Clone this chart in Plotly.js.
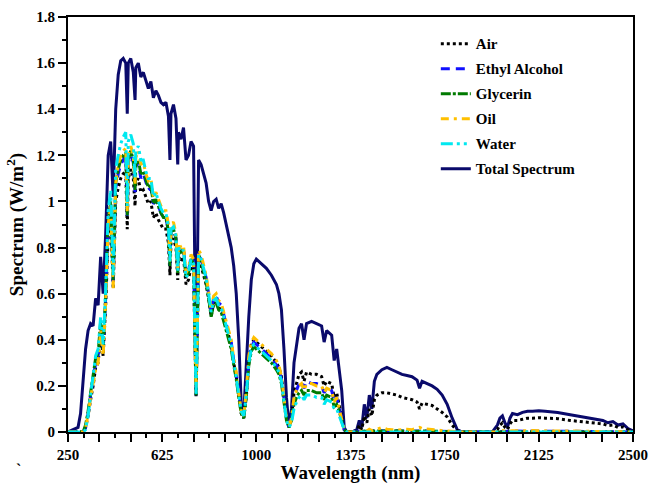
<!DOCTYPE html>
<html>
<head>
<meta charset="utf-8">
<script src="https://cdn.plot.ly/plotly-3.0.1.min.js"></script>
<style>html,body{margin:0;padding:0;background:#fff;}#chart{width:649px;height:484px;}</style>
</head>
<body>
<div id="chart"></div>
<script>
var wavelength = [250,290,300,310,320,330,340,350,360,370,380,390,400,410,420,430,440,450,460,470,480,486,490,500,510,517,520,530,540,550,560,570,580,590,600,610,620,630,640,650,656,660,670,680,687,690,700,710,720,730,740,750,760,765,770,780,790,800,810,820,830,840,850,860,870,880,890,900,910,920,930,940,950,960,970,980,990,1000,1020,1040,1060,1080,1090,1100,1110,1120,1130,1140,1150,1160,1170,1180,1190,1200,1220,1240,1260,1270,1280,1300,1310,1320,1330,1340,1350,1360,1380,1400,1410,1420,1430,1440,1450,1460,1470,1480,1500,1520,1540,1560,1580,1600,1620,1640,1650,1660,1680,1700,1720,1740,1760,1780,1800,1820,1900,1940,1960,1970,1980,1990,2000,2010,2020,2040,2060,2080,2100,2125,2150,2200,2250,2300,2350,2380,2400,2420,2440,2460,2480,2500];

var totalSpectrum = [0,0.02,0.08,0.22,0.36,0.44,0.47,0.46,0.58,0.55,0.76,0.6,0.86,1.2,1.26,1.02,1.4,1.55,1.61,1.62,1.6,1.38,1.6,1.62,1.56,1.44,1.58,1.6,1.54,1.56,1.52,1.49,1.52,1.45,1.48,1.46,1.43,1.42,1.43,1.37,1.18,1.38,1.42,1.36,1.16,1.3,1.27,1.32,1.18,1.2,1.26,1.24,0.17,0.62,1.18,1.16,1.12,1.08,1.0,0.96,1.0,1.01,0.97,0.99,0.95,0.9,0.86,0.8,0.72,0.6,0.4,0.12,0.08,0.3,0.5,0.66,0.73,0.75,0.73,0.71,0.68,0.64,0.6,0.53,0.36,0.15,0.02,0.1,0.3,0.38,0.45,0.47,0.4,0.47,0.48,0.47,0.46,0.39,0.44,0.42,0.31,0.36,0.28,0.18,0.02,0,0,0.01,0.05,0.02,0.12,0.06,0.16,0.1,0.22,0.25,0.27,0.28,0.27,0.26,0.25,0.245,0.24,0.225,0.19,0.22,0.21,0.2,0.185,0.16,0.12,0.06,0.01,0,0,0,0.03,0.06,0.07,0.04,0.02,0.06,0.08,0.075,0.085,0.09,0.09,0.092,0.09,0.085,0.075,0.065,0.055,0.05,0.04,0.045,0.03,0.035,0.015,0.005];

var air = [0,0,0,0,0.02,0.07,0.14,0.2,0.28,0.3,0.42,0.33,0.55,0.85,0.92,0.62,1.0,1.06,1.1,1.12,1.13,0.88,1.1,1.14,1.1,0.98,1.08,1.1,1.04,1.05,1.02,0.99,1.0,0.93,0.95,0.92,0.9,0.88,0.88,0.82,0.68,0.82,0.84,0.8,0.66,0.76,0.74,0.76,0.64,0.66,0.72,0.7,0.15,0.42,0.74,0.72,0.68,0.64,0.58,0.5,0.56,0.57,0.54,0.53,0.49,0.45,0.42,0.38,0.3,0.24,0.16,0.08,0.06,0.16,0.3,0.38,0.4,0.39,0.37,0.35,0.33,0.3,0.28,0.24,0.14,0.06,0.02,0.06,0.17,0.21,0.25,0.26,0.22,0.26,0.25,0.25,0.24,0.2,0.22,0.21,0.15,0.17,0.12,0.07,0.01,0,0,0,0.03,0.01,0.07,0.04,0.1,0.07,0.14,0.16,0.17,0.17,0.165,0.16,0.15,0.145,0.14,0.13,0.1,0.125,0.12,0.115,0.1,0.085,0.065,0.03,0.005,0,0,0,0.01,0.03,0.04,0.02,0.01,0.035,0.05,0.05,0.055,0.06,0.06,0.062,0.06,0.058,0.05,0.045,0.04,0.035,0.028,0.03,0.02,0.022,0.01,0.003];

var ethylAlcohol = [0,0,0,0,0.02,0.08,0.16,0.23,0.3,0.33,0.46,0.35,0.58,0.9,0.98,0.64,1.06,1.12,1.16,1.18,1.2,0.93,1.17,1.2,1.17,1.04,1.15,1.17,1.1,1.12,1.08,1.05,1.06,0.99,1.0,0.98,0.95,0.93,0.93,0.87,0.72,0.87,0.88,0.84,0.7,0.8,0.78,0.8,0.68,0.7,0.76,0.74,0.16,0.44,0.78,0.75,0.71,0.67,0.6,0.52,0.58,0.59,0.56,0.55,0.51,0.47,0.43,0.39,0.31,0.25,0.17,0.09,0.07,0.17,0.31,0.37,0.39,0.38,0.36,0.34,0.32,0.29,0.27,0.23,0.13,0.06,0.02,0.06,0.15,0.18,0.21,0.22,0.19,0.22,0.21,0.21,0.2,0.17,0.19,0.18,0.13,0.15,0.1,0.06,0.01,0,0,0,0.004,0,0.006,0.002,0.008,0.004,0.006,0.005,0.006,0.004,0.005,0.006,0.004,0.003,0.004,0.005,0.004,0.006,0.005,0.004,0.003,0.002,0.003,0.002,0,0,0,0,0,0.002,0.003,0.002,0.002,0.003,0.004,0.003,0.004,0.003,0.004,0.003,0.004,0.003,0.003,0.002,0.002,0.002,0.002,0.002,0.001,0.002,0.001,0];

var glycerin = [0,0,0,0,0.03,0.09,0.17,0.24,0.32,0.34,0.48,0.36,0.6,0.92,1.0,0.66,1.08,1.14,1.18,1.2,1.21,0.94,1.18,1.22,1.18,1.05,1.16,1.18,1.12,1.13,1.09,1.06,1.07,0.99,1.01,0.98,0.95,0.93,0.93,0.87,0.72,0.87,0.88,0.84,0.69,0.8,0.78,0.79,0.67,0.69,0.75,0.73,0.16,0.43,0.77,0.74,0.7,0.65,0.58,0.5,0.55,0.56,0.53,0.52,0.48,0.44,0.4,0.36,0.29,0.23,0.15,0.08,0.06,0.15,0.29,0.35,0.37,0.36,0.34,0.32,0.3,0.27,0.25,0.21,0.12,0.05,0.02,0.05,0.12,0.15,0.17,0.18,0.16,0.18,0.18,0.17,0.17,0.14,0.16,0.15,0.11,0.12,0.09,0.05,0.01,0,0,0,0.002,0,0.004,0.002,0.005,0.003,0.004,0.004,0.005,0.004,0.004,0.005,0.004,0.003,0.003,0.004,0.003,0.005,0.004,0.003,0.003,0.002,0.002,0.001,0,0,0,0,0,0.002,0.002,0.001,0.001,0.002,0.003,0.003,0.003,0.003,0.003,0.003,0.003,0.002,0.002,0.002,0.002,0.002,0.002,0.001,0.001,0.001,0.001,0];

var oil = [0,0,0,0,0.02,0.07,0.15,0.22,0.27,0.3,0.44,0.33,0.56,0.9,0.98,0.62,1.08,1.16,1.2,1.22,1.23,0.95,1.2,1.24,1.2,1.07,1.19,1.22,1.16,1.17,1.12,1.09,1.1,1.02,1.04,1.01,0.98,0.96,0.96,0.9,0.74,0.9,0.91,0.86,0.71,0.82,0.8,0.81,0.69,0.71,0.77,0.75,0.17,0.45,0.79,0.77,0.72,0.68,0.61,0.53,0.59,0.6,0.57,0.56,0.52,0.48,0.44,0.4,0.32,0.26,0.17,0.09,0.07,0.18,0.33,0.39,0.41,0.4,0.38,0.36,0.34,0.31,0.29,0.24,0.14,0.06,0.02,0.06,0.15,0.18,0.2,0.21,0.18,0.21,0.21,0.2,0.2,0.17,0.19,0.18,0.13,0.15,0.1,0.06,0.01,0,0,0,0.006,0.002,0.01,0.004,0.012,0.006,0.01,0.012,0.02,0.012,0.01,0.008,0.01,0.012,0.01,0.015,0.02,0.015,0.012,0.01,0.008,0.006,0.004,0.003,0.002,0,0,0,0,0.004,0.006,0.003,0.002,0.004,0.005,0.004,0.005,0.005,0.006,0.005,0.005,0.004,0.004,0.003,0.003,0.003,0.003,0.002,0.002,0.002,0.001,0];

var water = [0,0,0,0,0.01,0.07,0.16,0.25,0.33,0.36,0.5,0.38,0.62,0.96,1.05,0.68,1.14,1.2,1.25,1.28,1.3,0.98,1.26,1.29,1.25,1.1,1.22,1.24,1.18,1.18,1.13,1.1,1.1,1.02,1.04,1.0,0.97,0.95,0.95,0.89,0.74,0.88,0.89,0.85,0.7,0.8,0.78,0.79,0.67,0.69,0.75,0.73,0.16,0.43,0.77,0.75,0.71,0.67,0.6,0.52,0.57,0.58,0.55,0.54,0.5,0.46,0.42,0.38,0.3,0.24,0.16,0.09,0.07,0.16,0.3,0.36,0.38,0.37,0.35,0.33,0.31,0.28,0.26,0.22,0.12,0.05,0.02,0.04,0.1,0.13,0.15,0.16,0.14,0.16,0.16,0.15,0.15,0.12,0.14,0.13,0.1,0.1,0.07,0.04,0.01,0,0,0,0.002,0,0.003,0.001,0.003,0.002,0.003,0.003,0.003,0.002,0.003,0.003,0.002,0.002,0.002,0.003,0.002,0.003,0.002,0.002,0.002,0.001,0.001,0.001,0,0,0,0,0,0.001,0.001,0.001,0.001,0.001,0.002,0.002,0.002,0.002,0.002,0.002,0.002,0.002,0.001,0.001,0.001,0.001,0.001,0.001,0.001,0.001,0.001,0];

var xTickVals = [250,375,500,625,750,875,1000,1125,1250,1375,1500,1625,1750,1875,2000,2125,2250,2375,2500];
var xTickText = ['<b>250</b>',' ',' ','<b>625</b>',' ',' ','<b>1000</b>',' ',' ','<b>1375</b>',' ',' ','<b>1750</b>',' ',' ','<b>2125</b>',' ',' ','<b>2500</b>'];
var yTickVals = [0,0.2,0.4,0.6,0.8,1,1.2,1.4,1.6,1.8];
var yTickText = ['<b>0</b>','<b>0.2</b>','<b>0.4</b>','<b>0.6</b>','<b>0.8</b>','<b>1</b>','<b>1.2</b>','<b>1.4</b>','<b>1.6</b>','<b>1.8</b>'];
var seriesNames = ['Air','Ethyl Alcohol','Glycerin','Oil','Water','Total Spectrum'];

var serif = 'Liberation Serif, Times New Roman, serif';
function tr(y, name, color, dash, width) {
  return {x: wavelength, y: y, name: '<b>' + name + '</b>', type: 'scatter', mode: 'lines',
    legendgroup: name,
    line: {color: color, dash: dash, width: width}};
}
var data = [
  tr(totalSpectrum, seriesNames[5], '#0a0a6b', 'solid', 3),
  tr(air, seriesNames[0], '#000000', '3px,3px', 3),
  tr(ethylAlcohol, seriesNames[1], '#1010ff', '9px,6px', 3),
  tr(glycerin, seriesNames[2], '#007a00', '10px,2px,3px,2px', 3),
  tr(oil, seriesNames[3], '#ffc000', '8px,5px,3px,5px', 3),
  tr(water, seriesNames[4], '#00e8f0', '12px,4px,3px,4px,3px,4px', 3)
];
data[1].legendrank = 1; data[2].legendrank = 2; data[3].legendrank = 3;
data[4].legendrank = 4; data[5].legendrank = 5; data[0].legendrank = 6;

var layout = {
  width: 649, height: 484,
  margin: {l: 68, r: 16, t: 17, b: 52},
  paper_bgcolor: '#fff', plot_bgcolor: '#fff',
  font: {family: serif, size: 15, color: '#000'},
  showlegend: true,
  legend: {x: 0.651, y: 0.975, xanchor: 'left', yanchor: 'top',
    bgcolor: 'rgba(0,0,0,0)', borderwidth: 0, tracegroupgap: 2.5,
    font: {family: serif, size: 15, color: '#000'}},
  xaxis: {
    range: [250, 2500], tickmode: 'array', tickvals: xTickVals, ticktext: xTickText,
    ticks: 'outside', ticklen: 8, tickwidth: 2, tickcolor: '#000',
    minor: {dtick: 62.5, tick0: 250, ticks: 'outside', ticklen: 4, tickwidth: 2, tickcolor: '#000', showgrid: false},
    showline: true, linewidth: 2, linecolor: '#000', mirror: true,
    showgrid: false, zeroline: false,
    tickfont: {family: serif, size: 15, color: '#000'},
    title: {text: '<b>Wavelength (nm)</b>', standoff: 8, font: {family: serif, size: 19, color: '#000'}}
  },
  yaxis: {
    range: [0, 1.8], tickmode: 'array', tickvals: yTickVals, ticktext: yTickText,
    ticks: 'outside', ticklen: 8, tickwidth: 2, tickcolor: '#000',
    minor: {dtick: 0.1, tick0: 0, ticks: 'outside', ticklen: 4, tickwidth: 2, tickcolor: '#000', showgrid: false},
    showline: true, linewidth: 2, linecolor: '#000', mirror: true,
    showgrid: false, zeroline: false,
    tickfont: {family: serif, size: 15, color: '#000'},
    title: {text: '<b>Spectrum (W/m<sup>2</sup>)</b>', standoff: 8, font: {family: serif, size: 19, color: '#000'}}
  },
  annotations: [{text: '<b>`</b>', xref: 'paper', yref: 'paper', x: -0.095, y: -0.115, showarrow: false,
    font: {family: serif, size: 16, color: '#000'}}]
};
Plotly.newPlot('chart', data, layout, {displayModeBar: false, staticPlot: true});
</script>
</body>
</html>
